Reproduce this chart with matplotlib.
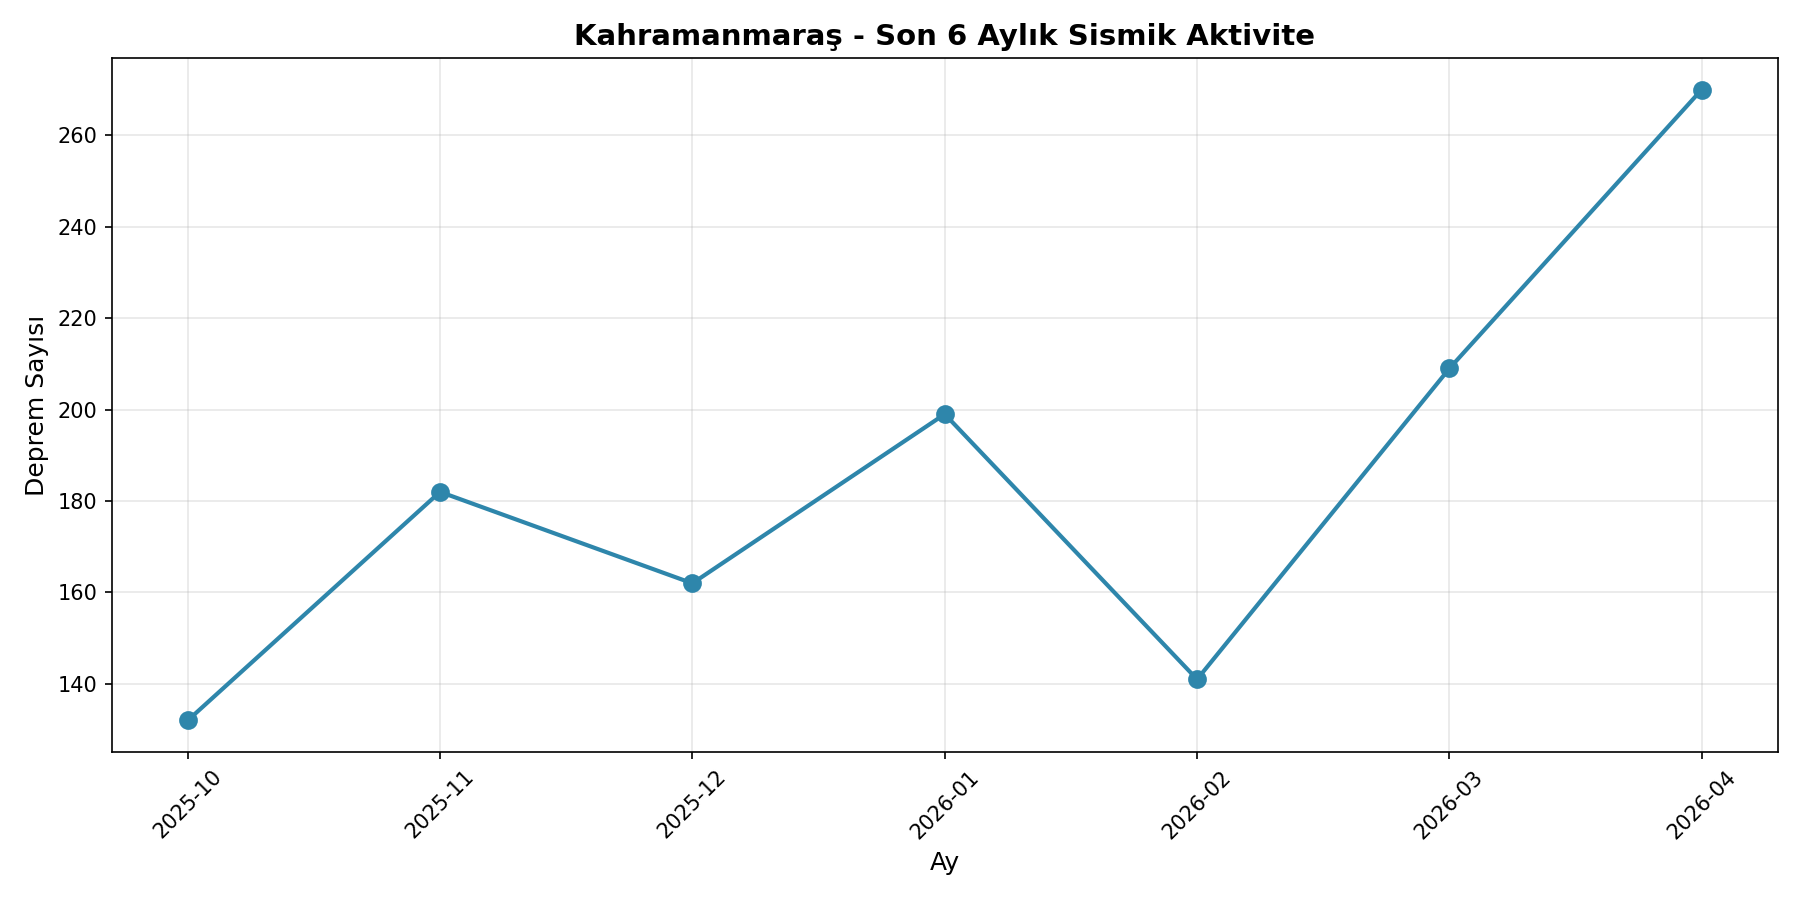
import matplotlib
matplotlib.use("Agg")
import matplotlib.pyplot as plt

months = ["2025-10", "2025-11", "2025-12", "2026-01", "2026-02", "2026-03", "2026-04"]
counts = [132, 182, 162, 199, 141, 209, 270]

fig, ax = plt.subplots(figsize=(12, 6), dpi=150)
ax.plot(months, counts, marker="o", linewidth=2, markersize=8, color="#2E86AB")
ax.set_title("Kahramanmaraş - Son 6 Aylık Sismik Aktivite", fontsize=14, fontweight="bold")
ax.set_xlabel("Ay", fontsize=12)
ax.set_ylabel("Deprem Sayısı", fontsize=12)
ax.grid(True, alpha=0.3)
plt.xticks(rotation=45)
# match the reference frame position
fig.subplots_adjust(left=0.0622, right=0.9875, bottom=0.1644, top=0.9356)
fig.savefig("out.png")
